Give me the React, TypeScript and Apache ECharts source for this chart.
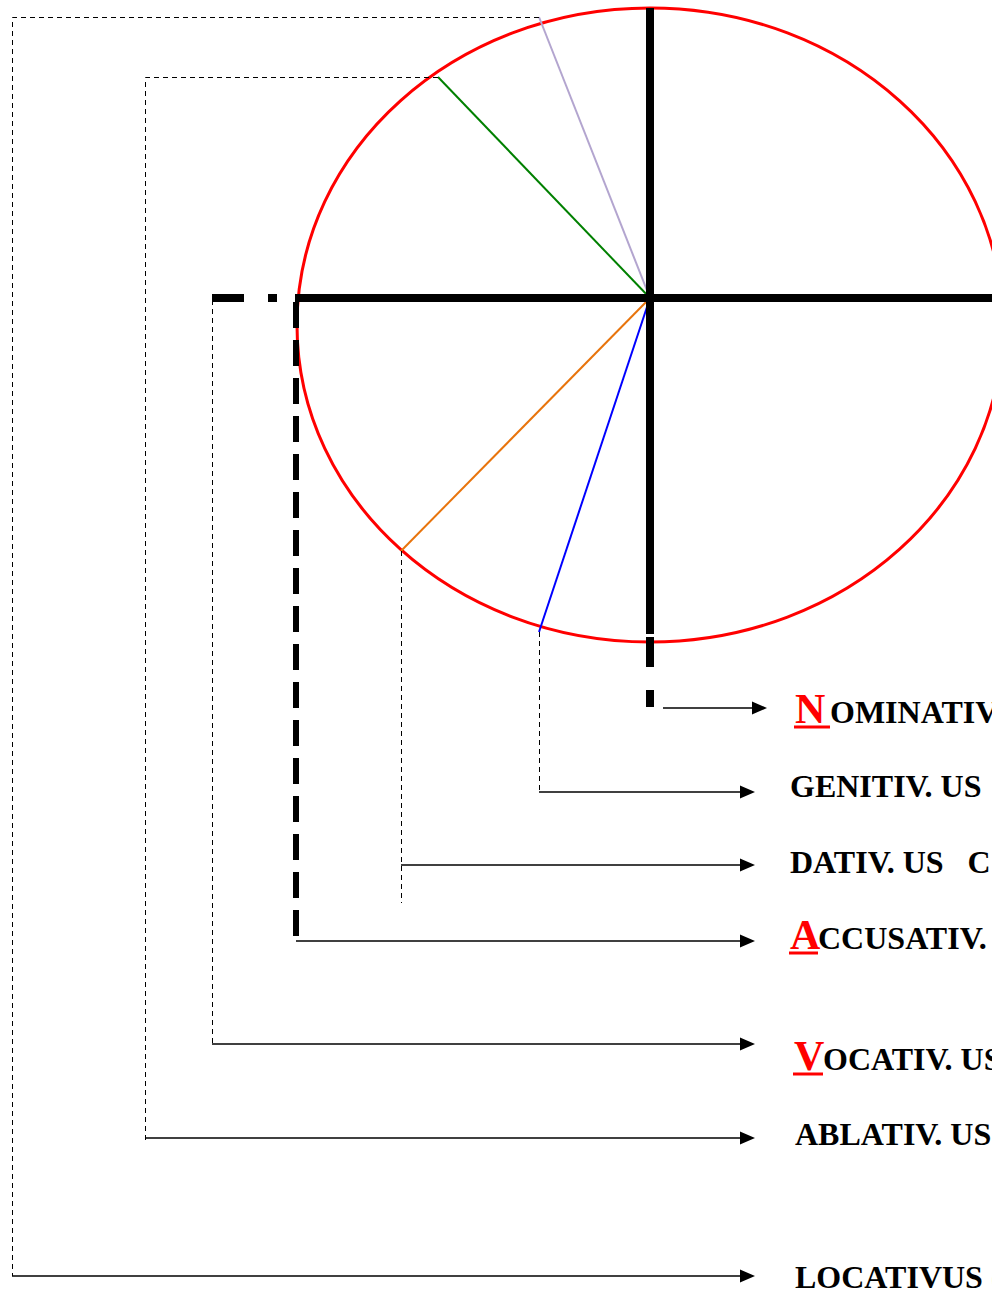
import React, { useEffect, useRef } from "react";
import * as echarts from "echarts";

// Diagram space (units of the hidden axes)
const X_MAX = 992;
const Y_MAX = 1294;

// The red ellipse: centre x, centre y, radius x, radius y
const ellipseShape = [650, 325, 353, 317];

// Thick black cross through the centre
const crossCenter = [650, 298];
const crossSolid = [
  [650, 8, 650, 634],
  [295, 298, 1000, 298],
];
const crossDashes = [
  [650, 637, 650, 667],
  [650, 690, 650, 707],
  [212, 298, 244, 298],
  [268, 298, 277, 298],
];
// Thick dashed stem that leads down to the accusative arrow
const accusativStem = [[296, 302, 296, 946]];

// Coloured radii from the centre to the rim
const spokeNames = ["lavender", "green", "orange", "blue"];
const spokeEnds = [
  [539, 17],
  [438, 77],
  [401, 551],
  [539, 632],
];

// Thin dotted connectors (polylines)
const connectors = [
  [[539, 17.5], [12.5, 17.5], [12.5, 1276]],
  [[438, 77.5], [145.5, 77.5], [145.5, 1141]],
  [[212.5, 300], [212.5, 1047]],
  [[401.5, 551], [401.5, 903]],
  [[539.5, 632], [539.5, 792]],
];

// Cases: arrows and labels
const caseNames = ["Nominativ", "Genitiv", "Dativ", "Accusativ", "Vocativ", "Ablativ", "Locativus"];
const caseInitials = ["N", "", "", "A", "V", "", ""];
const caseRest = ["OMINATIV", "GENITIV. US", "DATIV. US   C", "CCUSATIV.", "OCATIV. US", "ABLATIV. US", "LOCATIVUS ("];
const initialX = [795, 0, 0, 790, 794, 0, 0];
const restX = [830, 790, 790, 818, 823, 795, 795];
const labelBaseline = [723, 797, 873, 949, 1070, 1145, 1288];
const arrowY = [708, 792, 865, 941, 1044, 1138, 1276];
const arrowStartX = [663, 539, 401, 296, 212, 145, 12];
const arrowEndX = [767, 755, 755, 755, 755, 755, 755];

const SERIF = '"Liberation Serif", "Times New Roman", serif';
const spokeColors: Record<string, string> = {
  lavender: "#b3a5cf",
  green: "#008000",
  orange: "#e8740c",
  blue: "#0000ff",
};

function segmentSeries(data: number[][], stroke: string, lineWidth: number, lineDash?: number[]) {
  return {
    type: "custom",
    coordinateSystem: "cartesian2d",
    silent: true,
    data,
    renderItem: (_p: any, api: any) => {
      const a = api.coord([api.value(0), api.value(1)]);
      const b = api.coord([api.value(2), api.value(3)]);
      return {
        type: "line",
        shape: { x1: a[0], y1: a[1], x2: b[0], y2: b[1] },
        style: { stroke, lineWidth, lineDash: lineDash || null, lineCap: "butt", fill: null },
      };
    },
  };
}

export default function App() {
  const ref = useRef<HTMLDivElement>(null);

  useEffect(() => {
    if (!ref.current) return;
    const chart = echarts.init(ref.current, null, { renderer: "svg" });

    const series: any[] = [];

    // ellipse
    series.push({
      type: "custom",
      coordinateSystem: "cartesian2d",
      silent: true,
      data: [ellipseShape],
      renderItem: (_p: any, api: any) => {
        const c = api.coord([api.value(0), api.value(1)]);
        const s = api.size([api.value(2), api.value(3)]);
        return {
          type: "ellipse",
          shape: { cx: c[0], cy: c[1], rx: s[0], ry: s[1] },
          style: { fill: null, stroke: "#ff0000", lineWidth: 3 },
        };
      },
    });

    // spokes
    series.push({
      type: "custom",
      coordinateSystem: "cartesian2d",
      silent: true,
      data: spokeEnds.map((e) => [crossCenter[0], crossCenter[1], e[0], e[1]]),
      renderItem: (p: any, api: any) => {
        const a = api.coord([api.value(0), api.value(1)]);
        const b = api.coord([api.value(2), api.value(3)]);
        return {
          type: "line",
          shape: { x1: a[0], y1: a[1], x2: b[0], y2: b[1] },
          style: { stroke: spokeColors[spokeNames[p.dataIndex]], lineWidth: 2 },
        };
      },
    });

    // cross
    series.push(segmentSeries(crossSolid, "#000", 8));
    series.push(segmentSeries(crossDashes, "#000", 8));
    series.push(segmentSeries(accusativStem, "#000", 6, [26, 12]));

    // dotted connectors
    series.push({
      type: "custom",
      coordinateSystem: "cartesian2d",
      silent: true,
      data: connectors.map((_c, i) => [i]),
      renderItem: (p: any, api: any) => {
        const pts = connectors[p.dataIndex].map((q) => api.coord(q));
        return {
          type: "polyline",
          shape: { points: pts },
          style: { stroke: "#000", lineWidth: 1, lineDash: [5, 4], fill: null },
        };
      },
    });

    // arrows
    series.push({
      type: "custom",
      coordinateSystem: "cartesian2d",
      silent: true,
      data: caseNames.map((_n, i) => [arrowStartX[i], arrowY[i], arrowEndX[i]]),
      renderItem: (_p: any, api: any) => {
        const a = api.coord([api.value(0), api.value(1)]);
        const b = api.coord([api.value(2), api.value(1)]);
        const L = 15;
        const h = 6.5;
        return {
          type: "group",
          children: [
            {
              type: "line",
              shape: { x1: a[0], y1: a[1], x2: b[0] - L + 1, y2: b[1] },
              style: { stroke: "#000", lineWidth: 1.7 },
            },
            {
              type: "polygon",
              shape: { points: [[b[0] - L, b[1] - h], [b[0], b[1]], [b[0] - L, b[1] + h]] },
              style: { fill: "#000", stroke: null },
            },
          ],
        };
      },
    });

    // labels
    series.push({
      type: "custom",
      coordinateSystem: "cartesian2d",
      silent: true,
      data: caseNames.map((_n, i) => [restX[i], labelBaseline[i]]),
      renderItem: (p: any, api: any) => {
        const i = p.dataIndex;
        const base = api.coord([api.value(0), api.value(1)]);
        const fs = 32;
        const children: any[] = [
          {
            type: "text",
            style: {
              text: caseRest[i],
              x: base[0],
              y: base[1] - 0.34 * fs,
              font: `bold ${fs}px ${SERIF}`,
              fill: "#000",
              align: "left",
              verticalAlign: "middle",
            },
          },
        ];
        if (caseInitials[i]) {
          const ip = api.coord([initialX[i], labelBaseline[i]]);
          const ifs = 42;
          children.push({
            type: "text",
            style: {
              text: caseInitials[i],
              x: ip[0],
              y: ip[1] - 0.34 * ifs,
              font: `bold ${ifs}px ${SERIF}`,
              fill: "#ff0000",
              align: "left",
              verticalAlign: "middle",
            },
          });
          const u1 = api.coord([initialX[i] - 1, labelBaseline[i] + 4]);
          const u2 = api.coord([restX[i], labelBaseline[i] + 4]);
          children.push({
            type: "line",
            shape: { x1: u1[0], y1: u1[1], x2: u2[0], y2: u2[1] },
            style: { stroke: "#ff0000", lineWidth: 3 },
          });
        }
        return { type: "group", children };
      },
    });

    chart.setOption({
      animation: false,
      backgroundColor: "#ffffff",
      grid: { left: 0, right: 0, top: 0, bottom: 0 },
      xAxis: { type: "value", min: 0, max: X_MAX, show: false },
      yAxis: { type: "value", min: 0, max: Y_MAX, inverse: true, show: false },
      series,
    });

    return () => chart.dispose();
  }, []);

  return (
    <div
      ref={ref}
      style={{ position: "absolute", left: 0, top: 0, width: 992, height: 1294, background: "#fff" }}
    />
  );
}
